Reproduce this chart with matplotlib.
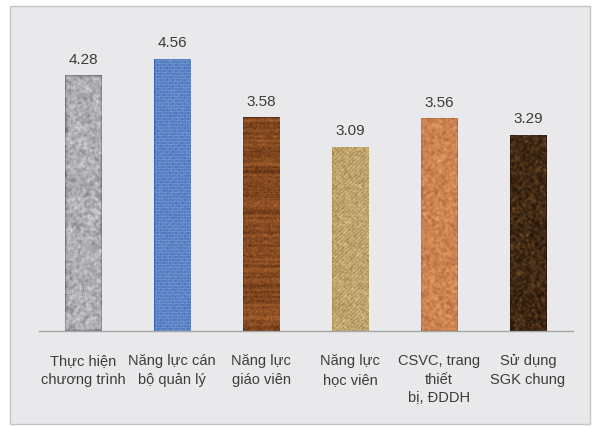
import numpy as np
import matplotlib
matplotlib.use("Agg")
import matplotlib.pyplot as plt
from matplotlib.patches import Rectangle

categories = [
    "Thực hiện\nchương trình",
    "Năng lực cán\nbộ quản lý",
    "Năng lực\ngiáo viên",
    "Năng lực\nhọc viên",
    "CSVC, trang\nthiết\nbị, ĐDDH",
    "Sử dụng\nSGK chung",
]
scores = [4.28, 4.56, 3.58, 3.09, 3.56, 3.29]
value_labels = ["4.28", "4.56", "3.58", "3.09", "3.56", "3.29"]

FONT = ["Liberation Sans", "DejaVu Sans"]
plt.rcParams["font.family"] = FONT

rng = np.random.default_rng(7)


def smooth(a, k):
    # simple separable box blur
    if k <= 1:
        return a
    ker = np.ones(k) / k
    a = np.apply_along_axis(lambda r: np.convolve(r, ker, mode="same"), 1, a)
    a = np.apply_along_axis(lambda c: np.convolve(c, ker, mode="same"), 0, a)
    return a


def norm(a):
    a = a - a.min()
    return a / (a.max() + 1e-9)


def colorize(t, dark, light):
    dark = np.array(dark, float) / 255
    light = np.array(light, float) / 255
    return np.clip(dark[None, None, :] * (1 - t[..., None]) + light[None, None, :] * t[..., None], 0, 1)


def texture(kind, rows, cols):
    if kind == "granite":
        t = norm(smooth(rng.random((rows, cols)), 3)) * 0.6 + norm(smooth(rng.random((rows, cols)), 6)) * 0.4
        t = norm(t)
        return colorize(t, (100, 100, 105), (215, 215, 220))
    if kind == "blue":
        t = np.zeros((rows, cols))
        for r in range(rows):
            off = (r * 3) % 6
            for c in range(cols):
                if r % 3 == 0 or (c + off) % 6 == 0:
                    t[r, c] = 0.3
                else:
                    t[r, c] = 0.7
        t = t + rng.random((rows, cols)) * 0.3
        t = norm(smooth(t, 2))
        return colorize(t, (50, 85, 160), (120, 160, 220))
    if kind == "wood":
        band = smooth(rng.random((rows, 1)), 3)[:, 0]
        t = np.repeat(band[:, None], cols, axis=1)
        t = t + smooth(rng.random((rows, cols)), 2) * 0.3
        t = norm(t)
        return colorize(t, (75, 35, 12), (180, 105, 50))
    if kind == "tan":
        t = norm(smooth(rng.random((rows, cols)), 2))
        diag = (np.add.outer(np.arange(rows), np.arange(cols)) % 4 == 0) * 0.3
        t = norm(t - diag)
        return colorize(t, (145, 115, 65), (225, 200, 140))
    if kind == "peach":
        t = norm(smooth(rng.random((rows, cols)), 3))
        return colorize(t, (170, 95, 50), (235, 165, 110))
    if kind == "dark":
        t = norm(smooth(rng.random((rows, cols)), 3))
        t = t ** 1.6
        return colorize(t, (30, 18, 8), (120, 78, 40))
    raise ValueError(kind)


textures = ["granite", "blue", "wood", "tan", "peach", "dark"]

fig = plt.figure(figsize=(5.96, 4.27), dpi=100, facecolor="white")

# grey chart-area panel with a light border
fig.patches.append(Rectangle((10 / 596, 2 / 427), 580 / 596, 418 / 427,
                             transform=fig.transFigure, facecolor="#e9e9eb",
                             edgecolor="#c4c4c4", linewidth=1.0, zorder=-10))

ax = fig.add_axes([38.5 / 596, 1 - 332 / 427, 534 / 596, 298.5 / 427])
ax.set_facecolor("none")

x = np.arange(len(scores))
bars = ax.bar(x, scores, width=0.41, color="none", edgecolor="none")

for bar, kind in zip(bars, textures):
    x0, w, h = bar.get_x(), bar.get_width(), bar.get_height()
    rows = max(int(h * 60), 2)
    img = texture(kind, rows, 37)
    im = ax.imshow(img, extent=(x0, x0 + w, 0, h), aspect="auto",
                   interpolation="bilinear", origin="upper", zorder=2)
    im.set_clip_path(bar)

for bar, lab in zip(bars, value_labels):
    ax.annotate(lab, (bar.get_x() + bar.get_width() / 2, bar.get_height()),
                xytext=(0, 7), textcoords="offset points", ha="center",
                va="bottom", fontsize=11, color="#3c3c3c")

ax.set_xlim(-0.5, len(scores) - 0.5)
ax.set_ylim(0, 5)
ax.set_yticks([])
ax.set_xticks(x)
ax.set_xticklabels(categories, fontsize=10.5, color="#3c3c3c", linespacing=1.4)
ax.tick_params(axis="x", length=0, pad=16)
for side in ("top", "left", "right"):
    ax.spines[side].set_visible(False)
ax.spines["bottom"].set_color("#a6a6a6")
ax.spines["bottom"].set_linewidth(1.0)

fig.savefig("out.png", dpi=100, facecolor="white")
